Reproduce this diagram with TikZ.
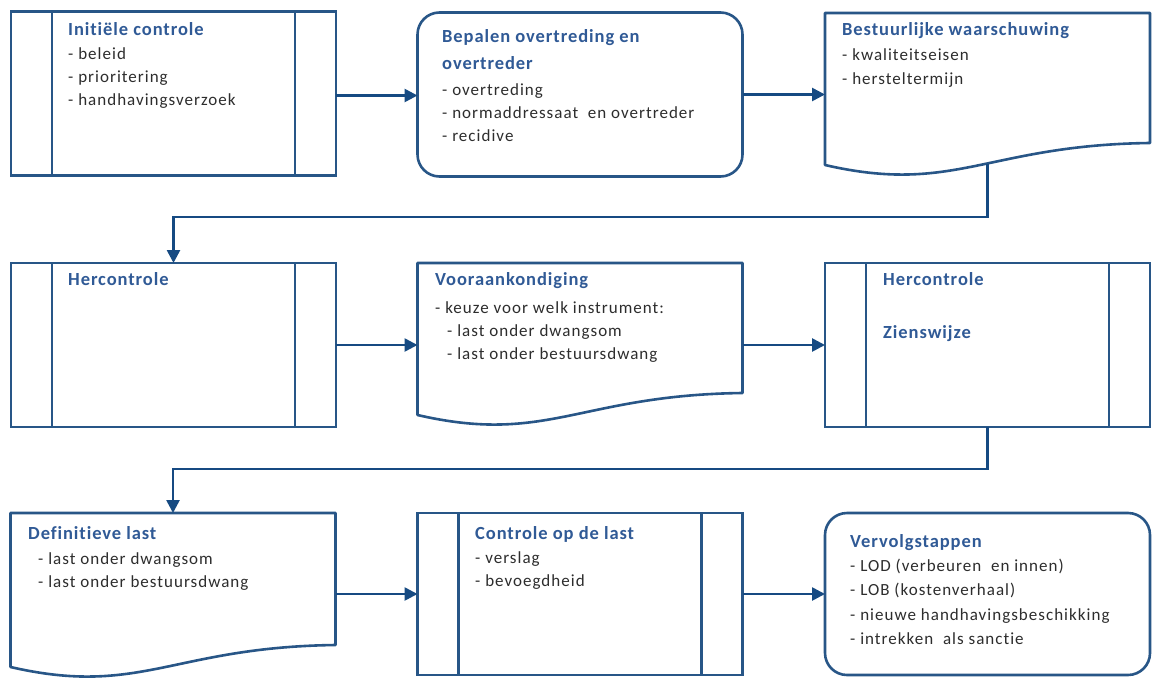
\documentclass[tikz,border=0pt]{standalone}
\usepackage{fontspec}
\setmainfont{Carlito}
\newfontfamily\bodyfont[LetterSpace=6,Ligatures={NoCommon}]{Carlito}
\newfontfamily\titlefont[LetterSpace=5,Ligatures={NoCommon}]{Carlito Bold}
\usetikzlibrary{arrows.meta,calc}
\definecolor{edgec}{RGB}{40,86,135}
\definecolor{arrc}{RGB}{22,74,130}
\definecolor{ttlc}{RGB}{48,90,150}
\definecolor{txtc}{RGB}{45,45,45}
\newcommand{\docshape}[1]{%
  \draw[edgeline] ($(#1.south west)+(0,-12)$) -- (#1.north west) -- (#1.north east)
    -- ($(#1.south east)+(0,-34)$)
    .. controls ($(#1.south west)+(162,-32)$) and ($(#1.south west)+(130,18)$) .. ($(#1.south west)+(0,-12)$) -- cycle;}
\newcommand{\procbars}[1]{%
  \draw[edgeline,line width=2.2pt] ($(#1.north west)+(41,0)$) -- ($(#1.south west)+(41,0)$)
    ($(#1.north east)+(-41,0)$) -- ($(#1.south east)+(-41,0)$);}
\begin{document}
\begin{tikzpicture}[x=1pt,y=-1pt,
  edgeline/.style={draw=edgec,line width=2.6pt,line join=round},
  boxbase/.style={minimum width=325pt,minimum height=164pt,inner sep=0pt,outer sep=0pt},
  procbox/.style={boxbase,draw=edgec,line width=2.6pt},
  roundbox/.style={boxbase,draw=edgec,line width=2.6pt,rounded corners=22pt},
  docbox/.style={boxbase},
  arr/.style={draw=arrc,line width=2.6pt,-{Triangle[length=13pt,width=13pt]}},
  ttl/.style={anchor=mid west,inner sep=0pt,text=ttlc,font=\titlefont\fontsize{18.5}{21}\selectfont},
  itm/.style={anchor=mid west,inner sep=0pt,text=txtc,font=\bodyfont\fontsize{17}{20}\selectfont}]
\useasboundingbox (0,0) rectangle (1155,677);
\fill[white] (0,0) rectangle (1155,677);
% row 1
\node[procbox] (b1) at (173.5,93.5) {};
\procbars{b1}
\node[roundbox] (b2) at (580,94.5) {};
\node[docbox] (b3) at (987.5,95) {};
\docshape{b3}
% row 2
\node[procbox] (b4) at (173.5,345) {};
\procbars{b4}
\node[docbox] (b5) at (580,345) {};
\docshape{b5}
\node[procbox] (b6) at (987.5,345) {};
\procbars{b6}
% row 3
\node[docbox,minimum height=166pt] (b7) at (173,596) {};
\docshape{b7}
\node[procbox,minimum height=162pt] (b8) at (580,594) {};
\procbars{b8}
\node[roundbox,minimum height=162pt] (b9) at (987.5,594) {};
% connectors
\draw[arr] ([yshift=-2pt]b1.east) -- ([yshift=-2pt]b1.east -| b2.west);
\draw[arr] (b2.east) -- (b2.east -| b3.west);
\coordinate (b3w) at ($(b3.south)+(0,-13)$);
\coordinate (b6s) at (b6.south);
\draw[arr] (b3w) -- (b3w |- 0,217) -| (b4.north);
\draw[arr] (b4.east) -- (b5.west);
\draw[arr] (b5.east) -- (b6.west);
\draw[arr] (b6s) -- (b6s |- 0,469) -| (b7.north);
\draw[arr] (b7.east |- b8.west) -- (b8.west);
\draw[arr] (b8.east) -- (b9.west);
% texts box 1
\node[ttl] (t1) at (68,33) {Initiële controle};
\node[itm] (t1a) at (68,57) {- beleid};
\node[itm] (t1b) at (68,80) {- prioritering};
\node[itm] (t1c) at (68,103) {- handhavingsverzoek};
% box 2
\node[ttl] (t2) at (442,40) {Bepalen overtreding en};
\node[ttl] (t2x) at (442,67) {overtreder};
\node[itm] (t2a) at (442,93) {- overtreding};
\node[itm] (t2b) at (442,116) {- normaddressaat\ \ en overtreder};
\node[itm] (t2c) at (442,139) {- recidive};
% box 3
\node[ttl] (t3) at (842,33) {Bestuurlijke waarschuwing};
\node[itm] (t3a) at (842,58) {- kwaliteitseisen};
\node[itm] (t3b) at (842,82) {- hersteltermijn};
% box 4
\node[ttl] (t4) at (68,283) {Hercontrole};
% box 5
\node[ttl] (t5) at (435,283) {Vooraankondiging};
\node[itm] (t5a) at (435,311) {- keuze voor welk instrument:};
\node[itm] (t5b) at (447,334) {- last onder dwangsom};
\node[itm] (t5c) at (447,357) {- last onder bestuursdwang};
% box 6
\node[ttl] (t6) at (883,283) {Hercontrole};
\node[ttl] (t6x) at (883,336) {Zienswijze};
% box 7
\node[ttl] (t7) at (28,537) {Definitieve last};
\node[itm] (t7a) at (38,562) {- last onder dwangsom};
\node[itm] (t7b) at (38,585) {- last onder bestuursdwang};
% box 8
\node[ttl] (t8) at (475,537) {Controle op de last};
\node[itm] (t8a) at (475,561) {- verslag};
\node[itm] (t8b) at (475,584) {- bevoegdheid};
% box 9
\node[ttl] (t9) at (850,545) {Vervolgstappen};
\node[itm] (t9a) at (850,569) {- LOD (verbeuren\ \ en innen)};
\node[itm] (t9b) at (850,593) {- LOB (kostenverhaal)};
\node[itm] (t9c) at (850,618) {- nieuwe handhavingsbeschikking};
\node[itm] (t9d) at (850,642) {- intrekken\ \ als sanctie};
\end{tikzpicture}
\end{document}
